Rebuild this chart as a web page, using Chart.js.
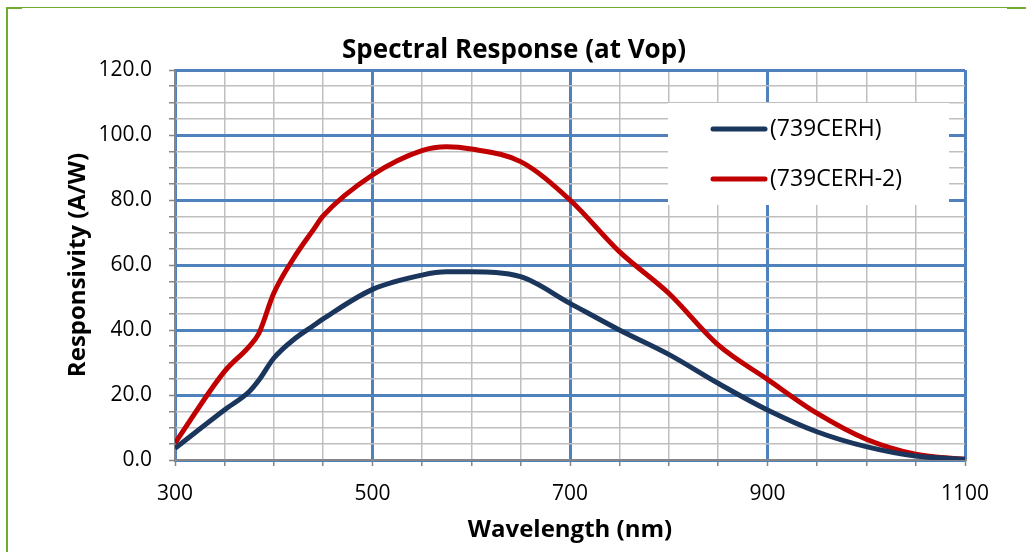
<!DOCTYPE html>
<html>
<head>
<meta charset="utf-8">
<script src="https://cdn.jsdelivr.net/npm/chart.js@4/dist/chart.umd.min.js"></script>
<style>
  html, body { margin: 0; padding: 0; background: #ffffff; }
  #wrap { position: relative; width: 1026px; height: 552px; }
</style>
</head>
<body>
<div id="wrap"><canvas id="spectralChart" width="1026" height="552"></canvas></div>
<script>
// wavelength (nm) and responsivity (A/W)
var wavelength = [300, 350, 375, 385, 400, 420, 440, 450, 500, 550, 575, 600, 650, 700, 750, 800, 850, 900, 950, 1000, 1050, 1100];
var resp739CERH = [3.6, 15.4, 21.0, 24.6, 31.3, 37.0, 41.3, 43.4, 52.5, 56.9, 57.9, 57.9, 56.4, 48.2, 40.0, 32.5, 23.6, 15.4, 8.7, 4.1, 1.2, 0.2];
var resp739CERH2 = [5.2, 27.2, 34.9, 39.0, 51.3, 62.0, 70.8, 75.1, 87.7, 95.2, 96.4, 95.7, 91.8, 80.0, 64.1, 51.3, 35.4, 24.8, 14.4, 6.4, 1.8, 0.2];
var seriesLabels = ['(739CERH)', '(739CERH-2)'];
var seriesColors = ['#1b365d', '#c00000'];

var xTicksShown = [300, 500, 700, 900, 1100];
var yTicksShown = [0, 20, 40, 60, 80, 100, 120];

var chartTitle = 'Spectral Response (at Vop)';
var fontFamily = '"Open Sans", "Noto Sans", sans-serif';
var blueGrid = '#4f81bd';
var grayGrid = '#bfbfbf';
var axisGray = '#868686';

function toPoints(xs, ys) {
  return xs.map(function (x, i) { return { x: x, y: ys[i] }; });
}

// green frame round the picture + title
var framePlugin = {
  id: 'frame',
  beforeDraw: function (chart) {
    var ctx = chart.ctx;
    ctx.save();
    ctx.fillStyle = '#ffffff';
    ctx.fillRect(0, 0, chart.width, chart.height);
    ctx.strokeStyle = '#70ad2f';
    ctx.lineWidth = 1;
    ctx.beginPath();
    ctx.moveTo(7, 7.5);
    ctx.lineTo(1007, 7.5);
    ctx.stroke();
    ctx.lineWidth = 2;
    ctx.beginPath();
    ctx.moveTo(7, 7);
    ctx.lineTo(7, chart.height);
    ctx.moveTo(6, 8);
    ctx.lineTo(22, 8);
    ctx.moveTo(1007, 8);
    ctx.lineTo(1026, 8);
    ctx.stroke();

    ctx.fillStyle = '#000000';
    ctx.font = 'bold 26px ' + fontFamily;
    ctx.textAlign = 'center';
    ctx.textBaseline = 'alphabetic';
    ctx.fillText(chartTitle, 514, 58);
    ctx.restore();
  }
};

// legend box sitting inside the plot, top right
var boxLegendPlugin = {
  id: 'boxLegend',
  afterDatasetsDraw: function (chart) {
    var ctx = chart.ctx;
    ctx.save();
    ctx.fillStyle = '#ffffff';
    ctx.fillRect(668, 103, 281, 102);
    chart.data.datasets.forEach(function (ds, i) {
      var y = 129 + i * 50;
      ctx.strokeStyle = ds.borderColor;
      ctx.lineWidth = 5;
      ctx.lineCap = 'round';
      ctx.beginPath();
      ctx.moveTo(713, y);
      ctx.lineTo(765, y);
      ctx.stroke();
      ctx.fillStyle = '#000000';
      ctx.font = '23px ' + fontFamily;
      ctx.textBaseline = 'middle';
      ctx.textAlign = 'left';
      ctx.fillText(ds.label, 770, y);
    });
    ctx.restore();
  }
};

var spectralChart = document.getElementById('spectralChart');
var spectralChartConfig = {
  type: 'line',
  data: {
    datasets: [{
      label: seriesLabels[0],
      data: toPoints(wavelength, resp739CERH),
      borderColor: seriesColors[0],
      borderWidth: 5,
      pointRadius: 0,
      cubicInterpolationMode: 'monotone',
      fill: false
    }, {
      label: seriesLabels[1],
      data: toPoints(wavelength, resp739CERH2),
      borderColor: seriesColors[1],
      borderWidth: 5,
      pointRadius: 0,
      cubicInterpolationMode: 'monotone',
      fill: false
    }]
  },
  options: {
    responsive: false,
    animation: false,
    layout: { padding: { left: 0, right: 61, top: 70, bottom: 0 } },
    plugins: {
      legend: { display: false },
      tooltip: { enabled: false },
      title: { display: false }
    },
    scales: {
      x: {
        type: 'linear',
        min: 300,
        max: 1100,
        afterFit: function (scale) { scale.height = 92; },
        ticks: {
          stepSize: 50,
          autoSkip: false,
          maxRotation: 0,
          padding: 15,
          color: '#000000',
          font: { family: fontFamily, size: 21 },
          callback: function (v) { return xTicksShown.indexOf(v) >= 0 ? String(v) : ''; }
        },
        grid: {
          tickLength: 6,
          tickColor: axisGray,
          tickWidth: 1.5,
          lineWidth: function (c) { return xTicksShown.indexOf(c.tick && c.tick.value) >= 0 ? 3 : 1.5; },
          color: function (c) { return xTicksShown.indexOf(c.tick && c.tick.value) >= 0 ? blueGrid : grayGrid; }
        },
        border: { color: axisGray, width: 2 },
        title: {
          display: true,
          text: 'Wavelength (nm)',
          color: '#000000',
          font: { family: fontFamily, size: 24, weight: 'bold', lineHeight: 1.2 },
          padding: { top: 0, bottom: 7 }
        }
      },
      y: {
        min: 0,
        max: 120,
        afterFit: function (scale) { scale.width = 175; },
        ticks: {
          stepSize: 5,
          maxTicksLimit: 100,
          autoSkip: false,
          padding: 17,
          color: '#000000',
          font: { family: fontFamily, size: 21 },
          callback: function (v) { return yTicksShown.indexOf(v) >= 0 ? v.toFixed(1) : ''; }
        },
        grid: {
          tickLength: 6,
          tickColor: axisGray,
          tickWidth: 1.5,
          lineWidth: function (c) { return yTicksShown.indexOf(c.tick && c.tick.value) >= 0 ? 3 : 1.5; },
          color: function (c) { return yTicksShown.indexOf(c.tick && c.tick.value) >= 0 ? blueGrid : grayGrid; }
        },
        border: { color: axisGray, width: 2 },
        title: {
          display: true,
          text: 'Responsivity (A/W)',
          color: '#000000',
          font: { family: fontFamily, size: 24, weight: 'bold', lineHeight: 1.2 },
          padding: { top: 64, bottom: 0 }
        }
      }
    }
  },
  plugins: [framePlugin, boxLegendPlugin]
};
var spectralChartObj = new Chart(spectralChart, spectralChartConfig);
</script>
</body>
</html>
